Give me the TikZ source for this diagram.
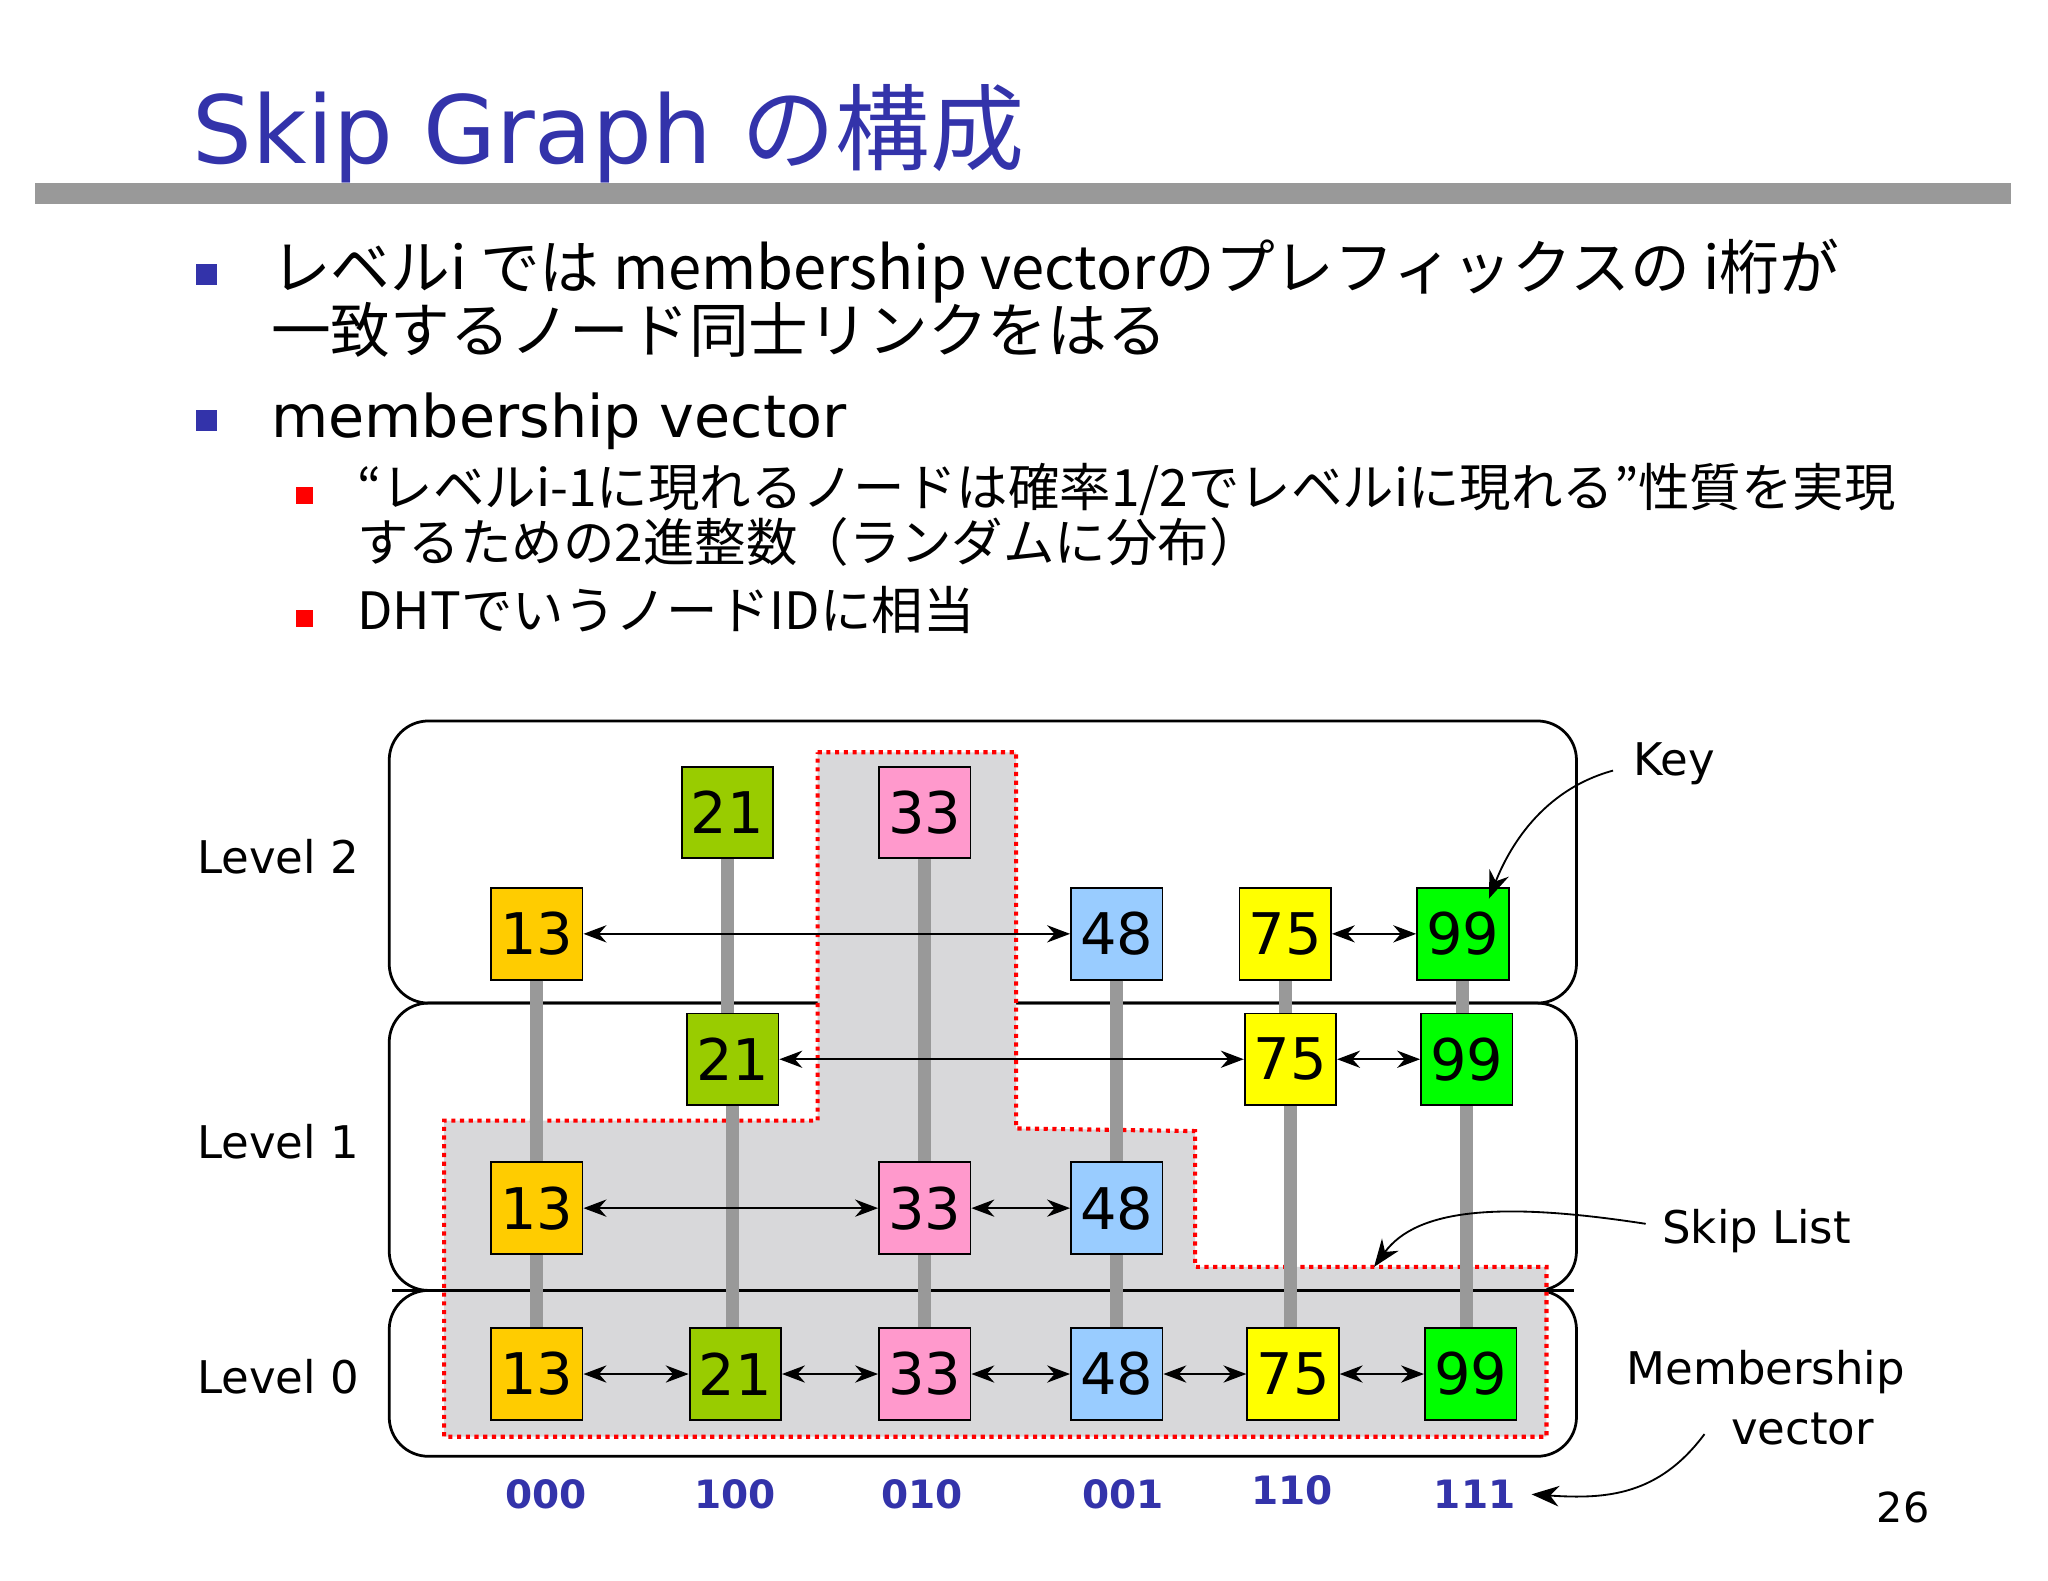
\documentclass[tikz,border=0pt]{standalone}
\usepackage{fontspec}
\setmainfont{DejaVu Sans}
\newfontfamily\jp{Noto Sans CJK JP}
\usetikzlibrary{arrows.meta}
\definecolor{ttl}{RGB}{51,51,170}
\definecolor{corange}{RGB}{255,204,0}
\definecolor{cgreen}{RGB}{153,204,0}
\definecolor{cpink}{RGB}{255,153,204}
\definecolor{cblue}{RGB}{153,204,255}
\definecolor{cyell}{RGB}{255,255,0}
\definecolor{clime}{RGB}{0,255,0}
\definecolor{reg}{RGB}{216,216,218}
\tikzset{
 kb/.style={draw=black,minimum size=0.7cm,inner sep=0pt,font=\fontsize{12.5}{12.5}\selectfont},
 lk/.style={{Stealth[length=5pt]}-{Stealth[length=5pt]},thin},
 pole/.style={line width=1mm,draw=gray!80},
 lvl/.style={draw=black,rounded corners=0.3cm,line width=0.6pt},
 lab/.style={font=\fontsize{9.8}{9.8}\selectfont,anchor=base},
 bits/.style={font=\fontsize{8.5}{8.5}\selectfont\bfseries,text=ttl,anchor=base},
 txt/.style={anchor=base west,inner sep=0pt},
}
\begin{document}
\begin{tikzpicture}[x=0.01cm,y=-0.01cm]
\useasboundingbox (0,0) rectangle (1568,1210);
% title
\node[txt,text=ttl,font=\fontsize{20.5}{20.5}\selectfont] (title) at (147,125) {Skip Graph {\jp の構成}};
\draw[line width=1.6mm,gray!80] (27,148) -- (1540,148);
% bullets
\fill[ttl] (150,202) rectangle (166,218);
\fill[ttl] (150,314) rectangle (166,330);
\node[txt,font=\jp\fontsize{13}{13}\selectfont] (b1a) at (207,222) {レベルi では membership vectorのプレフィックスの i桁が};
\node[txt,font=\jp\fontsize{13}{13}\selectfont] (b1b) at (207,270) {一致するノード同士リンクをはる};
\node[txt,font=\fontsize{12.8}{12.8}\selectfont] (b2) at (207,335) {membership vector};
\fill[red] (227,373) rectangle (240,386);
\fill[red] (227,467) rectangle (240,480);
\node[txt,font=\jp\fontsize{11.2}{11.2}\selectfont] (s1a) at (273,388) {“レベルi-1に現れるノードは確率1/2でレベルiに現れる”性質を実現};
\node[txt,font=\jp\fontsize{11.2}{11.2}\selectfont] (s1b) at (273,430) {するための2進整数（ランダムに分布）};
\node[txt,font=\jp\fontsize{11.2}{11.2}\selectfont] (s2) at (273,482) {DHTでいうノードIDに相当};
% level frames
\draw[lvl] (298,552) rectangle (1207,768);
\draw[lvl] (298,768) rectangle (1207,988);
\draw[lvl] (298,988) rectangle (1207,1115);
% region
\draw[fill=reg,draw=red,densely dotted,line width=0.9pt] (626,576) -- (778,576) -- (778,864) -- (915,866) -- (915,970) -- (1184,970) -- (1184,1100) -- (340,1100) -- (340,858) -- (626,858) -- cycle;
\draw[line width=0.6pt] (300,988) -- (1205,988);
% nodes
\node[kb,fill=cgreen] (a21) at (557,622) {21};
\node[kb,fill=cpink] (a33) at (708,622) {33};
\node[kb,fill=corange] (a13) at (411,715) {13};
\node[kb,fill=cblue] (a48) at (855,715) {48};
\node[kb,fill=cyell] (a75) at (984,715) {75};
\node[kb,fill=clime] (a99) at (1120,715) {99};
\node[kb,fill=cgreen] (b21) at (561,811) {21};
\node[kb,fill=cyell] (b75) at (988,811) {75};
\node[kb,fill=clime] (b99) at (1123,811) {99};
\node[kb,fill=corange] (b13) at (411,925) {13};
\node[kb,fill=cpink] (b33) at (708,925) {33};
\node[kb,fill=cblue] (b48) at (855,925) {48};
\node[kb,fill=corange] (c13) at (411,1052) {13};
\node[kb,fill=cgreen] (c21) at (563,1052) {21};
\node[kb,fill=cpink] (c33) at (708,1052) {33};
\node[kb,fill=cblue] (c48) at (855,1052) {48};
\node[kb,fill=cyell] (c75) at (990,1052) {75};
\node[kb,fill=clime] (c99) at (1126,1052) {99};
% poles (vertical)
\draw[pole] (a13.south) -- (a13.south |- b13.north); \draw[pole] (b13.south) -- (b13.south |- c13.north);
\draw[pole] (b21.north -| a21.south) -- (a21.south); \draw[pole] (b21.south) -- (b21.south |- c21.north);
\draw[pole] (a33.south) -- (a33.south |- b33.north); \draw[pole] (b33.south) -- (b33.south |- c33.north);
\draw[pole] (a48.south) -- (a48.south |- b48.north); \draw[pole] (b48.south) -- (b48.south |- c48.north);
\draw[pole] (b75.north -| a75.south) -- (a75.south); \draw[pole] (b75.south) -- (b75.south |- c75.north);
\draw[pole] (b99.north -| a99.south) -- (a99.south); \draw[pole] (b99.south) -- (b99.south |- c99.north);
% links
\draw[lk] (a13) -- (a48); \draw[lk] (a75) -- (a99);
\draw[lk] (b21) -- (b75); \draw[lk] (b75) -- (b99);
\draw[lk] (b13) -- (b33); \draw[lk] (b33) -- (b48);
\draw[lk] (c13) -- (c21); \draw[lk] (c21) -- (c33); \draw[lk] (c33) -- (c48); \draw[lk] (c48) -- (c75); \draw[lk] (c75) -- (c99);
% labels
\node[lab] (l2) at (213,669) {Level 2};
\node[lab] (l1) at (213,887) {Level 1};
\node[lab] (l0) at (213,1067) {Level 0};
\node[bits] at (418,1155) {000};
\node[bits] at (563,1155) {100};
\node[bits] at (706,1155) {010};
\node[bits] at (860,1155) {001};
\node[bits] at (989,1152) {110};
\node[bits] (m111) at (1129,1155) {111};
\node[lab] (key) at (1282,594) {Key};
\draw[-{Stealth[length=6pt]}] (1235,590) .. controls (1180,605) and (1155,650) .. (1140,688);
\node[lab] (sl) at (1345,952) {Skip List};
\coordinate (slt) at (1052,970);
\draw[-{Stealth[length=6pt]}] (1260,937) .. controls (1150,920) and (1085,925) .. (slt);
\node[lab] (mv1) at (1352,1060) {Membership};
\node[lab] (mv2) at (1380,1106) {vector};
\draw[-{Stealth[length=6pt]}] (1305,1098) .. controls (1270,1145) and (1230,1148) .. (m111.east);
\node[lab,font=\fontsize{9}{9}\selectfont] (pg) at (1457,1166) {26};
\end{tikzpicture}
\end{document}
